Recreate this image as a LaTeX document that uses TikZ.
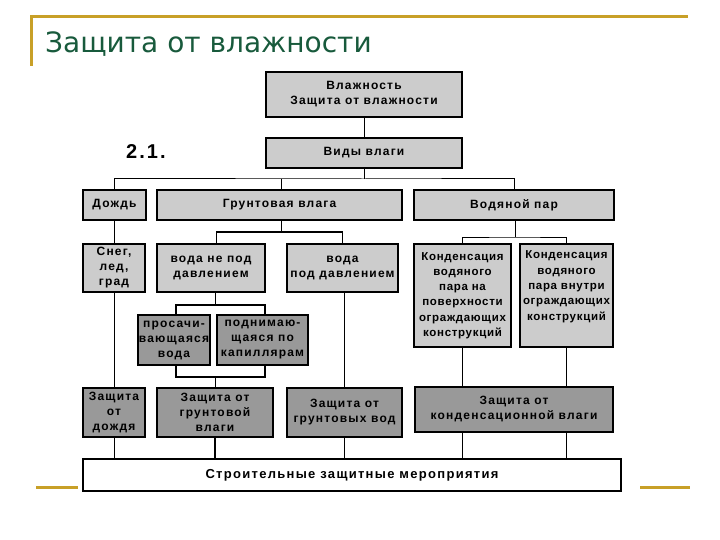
\documentclass[tikz,border=0pt]{standalone}
\usepackage{fontspec}
\setmainfont{Liberation Sans}
\newfontfamily\titlefont{DejaVu Sans}
\newfontfamily\bx[LetterSpace=10]{Liberation Sans}
\newfontfamily\bxn[LetterSpace=6]{Liberation Sans}
\definecolor{gold}{RGB}{200,160,40}
\definecolor{titlegreen}{RGB}{24,90,60}
\tikzset{
  lbox/.style={draw=black, line width=1.2pt, fill=black!20, align=center, inner sep=0pt,
    font=\bx\bfseries\fontsize{12}{15}\selectfont},
  dbox/.style={lbox, fill=black!40},
  kbox/.style={lbox, font=\bxn\bfseries\fontsize{11.5}{15.3}\selectfont},
  conn/.style={draw=black, line width=1pt},
  tconn/.style={draw=black, line width=1.8pt},
  goldline/.style={draw=gold, line width=3pt}
}
\begin{document}
\begin{tikzpicture}[x=1pt,y=-1pt]
\useasboundingbox (0,0) rectangle (720,540);
% title decoration
\draw[goldline] (30,17) -- (688,17);
\draw[goldline] (31,17) -- (31,66);
\draw[goldline] (36,487) -- (78,487);
\draw[goldline] (640,487) -- (690,487);
\node[anchor=base west, inner sep=0pt, text=titlegreen, font=\titlefont\fontsize{28}{32}\selectfont] (title) at (45,53) {Защита от влажности};

\node[anchor=base west, inner sep=0pt, font=\bx\bfseries\fontsize{20}{22}\selectfont] (lbl) at (126,159) {2.1.};

% boxes
\node[lbox, minimum width=196pt, minimum height=45pt] (top) at (364,94.5) {Влажность\\Защита от влажности};
\node[lbox, minimum width=196pt, minimum height=30pt] (vidy) at (364,153) {Виды влаги};
\node[lbox, minimum width=63pt, minimum height=30pt] (dozhd) at (114.5,205) {Дождь};
\node[lbox, minimum width=245pt, minimum height=30pt] (grunt) at (279.5,205) {Грунтовая влага};
\node[lbox, minimum width=200pt, minimum height=30pt] (par) at (514,205) {Водяной пар};
\node[lbox, minimum width=62pt, minimum height=48pt] (sneg) at (114,268) {Снег,\\лед,\\град};
\node[lbox, minimum width=108pt, minimum height=48pt] (nepod) at (211,268) {вода не под\\давлением};
\node[lbox, minimum width=111pt, minimum height=48pt] (pod) at (342.5,268) {вода\\под давлением};
\node[kbox, minimum width=97pt, minimum height=103pt] (kond1) at (462.5,295.5) {Конденсация\\водяного\\пара на\\поверхности\\ограждающих\\конструкций};
\node[kbox, minimum width=93pt, minimum height=103pt] (kond2) at (566.5,295.5) {Конденсация\\водяного\\пара внутри\\ограждающих\\конструкций\\\strut};
\node[dbox, minimum width=72pt, minimum height=50pt] (pros) at (174,340) {просачи-\\вающаяся\\вода};
\node[dbox, minimum width=91pt, minimum height=50pt] (kap) at (262.5,340) {поднимаю-\\щаяся по\\капиллярам};
\node[dbox, minimum width=62pt, minimum height=49pt] (zd) at (114,412.5) {Защита\\от\\дождя};
\node[dbox, minimum width=116pt, minimum height=49pt] (zgv) at (215,412.5) {Защита от\\грунтовой\\влаги};
\node[dbox, minimum width=115pt, minimum height=49pt] (zgw) at (344.5,412.5) {Защита от\\грунтовых вод};
\node[dbox, minimum width=198pt, minimum height=45pt] (zk) at (514,409.5) {Защита от\\конденсационной влаги};
\node[lbox, fill=white, line width=2pt, minimum width=538pt, minimum height=32pt, font=\bx\bfseries\fontsize{13}{15}\selectfont] (bottom) at (352,475) {Строительные защитные мероприятия};

% connectors
\draw[conn] (top) -- (vidy);
\coordinate (h1) at (364,179);
\draw[conn] (vidy.south) -- (h1);
\draw[conn] (dozhd.north) |- (h1) -| (par.north);
\draw[conn] ([xshift=1.5pt]grunt.north) -- ([xshift=1.5pt]grunt.north |- h1);

\coordinate (h2) at (281,232);
\draw[conn] (grunt.south -| h2) -- (h2);
\draw[conn] ([xshift=5pt]nepod.north) |- (h2) -| (pod.north);

\coordinate (h3) at (515,237);
\draw[conn] (par.south -| h3) -- (h3);
\draw[conn] (kond1.north) |- (h3) -| (kond2.north);

\draw[tconn] (dozhd.south) -- (dozhd.south |- sneg.north);
\draw[conn] (sneg.south) -- (sneg.south |- zd.north);

\coordinate (h4) at (215,305);
\draw[conn] (nepod.south -| h4) -- (h4);
\draw[tconn] ([xshift=2pt]pros.north) |- (h4) -| ([xshift=2.5pt]kap.north);
\coordinate (h5) at (215,377);
\draw[tconn] ([xshift=2pt]pros.south) |- (h5) -| ([xshift=2.5pt]kap.south);
\draw[conn] (h5) -- (zgv.north);

\draw[tconn] (zgw.north) -- (zgw.north |- pod.south);
\draw[conn] (kond1.south) -- (kond1.south |- zk.north);
\draw[conn] (kond2.south) -- (kond2.south |- zk.north);

\draw[conn] (zd.south) -- (zd.south |- bottom.north);
\draw[tconn] (zgv.south) -- (zgv.south |- bottom.north);
\draw[tconn] (zgw.south) -- (zgw.south |- bottom.north);
\draw[conn] (zk.south -| kond1.south) -- (bottom.north -| kond1.south);
\draw[conn] (zk.south -| kond2.south) -- (bottom.north -| kond2.south);
\end{tikzpicture}
\end{document}
